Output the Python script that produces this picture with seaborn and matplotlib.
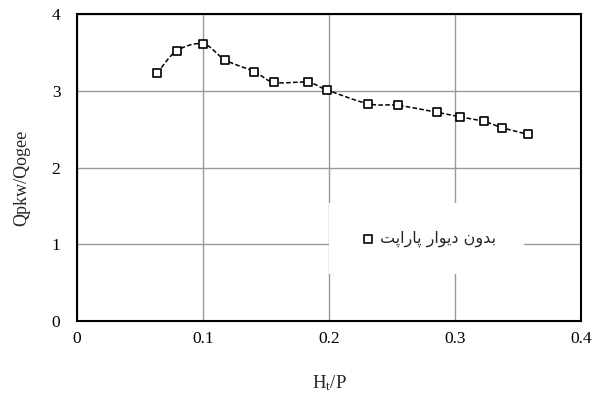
import numpy as np
import pandas as pd
import matplotlib
matplotlib.use("Agg")
import matplotlib.pyplot as plt
from matplotlib.patches import Rectangle
import seaborn as sns

# ---- data ----
ht_p = [0.0637, 0.0791, 0.1003, 0.1177, 0.1407, 0.1563, 0.1831, 0.1984,
        0.2312, 0.2545, 0.2855, 0.3040, 0.3233, 0.3370, 0.3582]
q_ratio = [3.23, 3.52, 3.61, 3.40, 3.25, 3.11, 3.11, 3.01,
           2.83, 2.81, 2.72, 2.66, 2.60, 2.52, 2.43]
x_ticks = [0, 0.1, 0.2, 0.3, 0.4]
x_tick_labels = ["0", "0.1", "0.2", "0.3", "0.4"]
y_ticks = [0, 1, 2, 3, 4]
y_tick_labels = ["0", "1", "2", "3", "4"]
# legend label "بدون دیوار پاراپت" in shaped (presentation) forms, visual order
legend_label = "".join(reversed(
    "\uFE91\uFEAA\uFEED\uFEE5" + " " +
    "\uFEA9\uFBFE\uFEEE\uFE8D\uFEAD" + " " +
    "\uFB58\uFE8E\uFEAD\uFE8D\uFB58\uFE96"))
x_label = r"H$_\mathrm{t}$/P"
y_label = "Qpkw/Qogee"

df = pd.DataFrame({"x": ht_p, "y": q_ratio})


def smooth_curve(xs, ys, n=25):
    """Excel-style smoothed line (cubic Bezier through points)."""
    xs = np.asarray(xs, float)
    ys = np.asarray(ys, float)
    px = np.concatenate([[xs[0]], xs, [xs[-1]]])
    py = np.concatenate([[ys[0]], ys, [ys[-1]]])
    ox, oy = [], []
    t = np.linspace(0, 1, n)
    for i in range(1, len(px) - 2):
        p0 = np.array([px[i], py[i]])
        p3 = np.array([px[i + 1], py[i + 1]])
        c1 = p0 + (np.array([px[i + 1], py[i + 1]]) - np.array([px[i - 1], py[i - 1]])) / 6
        c2 = p3 - (np.array([px[i + 2], py[i + 2]]) - np.array([px[i], py[i]])) / 6
        pts = ((1 - t)[:, None] ** 3 * p0 + 3 * ((1 - t) ** 2 * t)[:, None] * c1
               + 3 * ((1 - t) * t ** 2)[:, None] * c2 + (t ** 3)[:, None] * p3)
        ox.extend(pts[:, 0])
        oy.extend(pts[:, 1])
    return pd.DataFrame({"x": ox, "y": oy})


sns.set_theme(style="white")
plt.rcParams["font.family"] = ["Liberation Serif", "DejaVu Sans"]
plt.rcParams["mathtext.fontset"] = "custom"
plt.rcParams["mathtext.rm"] = "Liberation Serif"
plt.rcParams["mathtext.it"] = "Liberation Serif:italic"

W, H = 596, 395
fig, ax = plt.subplots(figsize=(W / 100, H / 100), dpi=100)
L, R, T, B = 77, 581, 14, 321
fig.subplots_adjust(left=L / W, right=R / W, top=1 - T / H, bottom=1 - B / H)
aw, ah = R - L, B - T

curve = smooth_curve(ht_p, q_ratio)
sns.lineplot(data=curve, x="x", y="y", ax=ax, color="black", linewidth=1.1,
             linestyle=(0, (3, 1.5)), sort=False, estimator=None, legend=False, zorder=3)
sns.scatterplot(data=df, x="x", y="y", ax=ax, marker="s", s=36, facecolor="white",
                edgecolor="black", linewidth=1.2, label=legend_label, zorder=4)

ax.set_xlim(0, 0.4)
ax.set_ylim(0, 4)
ax.set_xticks(x_ticks)
ax.set_xticklabels(x_tick_labels)
ax.set_yticks(y_ticks)
ax.set_yticklabels(y_tick_labels)
ax.grid(True, color="#999999", linewidth=1.0)
ax.set_axisbelow(True)
ax.tick_params(axis="both", length=0, labelsize=12.5, colors="black")
ax.tick_params(axis="x", pad=7)
ax.tick_params(axis="y", pad=12)
for s in ax.spines.values():
    s.set_color("black")
    s.set_linewidth(1.5)

ax.set_xlabel(x_label, fontsize=13.5, va="center", ha="center")
ax.xaxis.set_label_coords((329 - L) / aw, (B - 383) / ah)
ax.set_ylabel(y_label, fontsize=13, va="center", ha="center")
ax.yaxis.set_label_coords((22 - L) / aw, (B - 177.5) / ah)

# white legend box (no border) that hides the grid behind the legend
ax.add_patch(Rectangle(((329 - L) / aw, (B - 274) / ah), 195 / aw, 71 / ah,
                       transform=ax.transAxes, facecolor="white", edgecolor="none",
                       zorder=2))

leg = ax.legend(loc="center left", bbox_to_anchor=((362 - L) / aw, (B - 239) / ah),
                frameon=False, borderpad=0, borderaxespad=0,
                handletextpad=0.35, handlelength=0.8, markerscale=0.85,
                prop={"family": ["DejaVu Sans"], "size": 11.5})

fig.savefig("out.png", dpi=100)
